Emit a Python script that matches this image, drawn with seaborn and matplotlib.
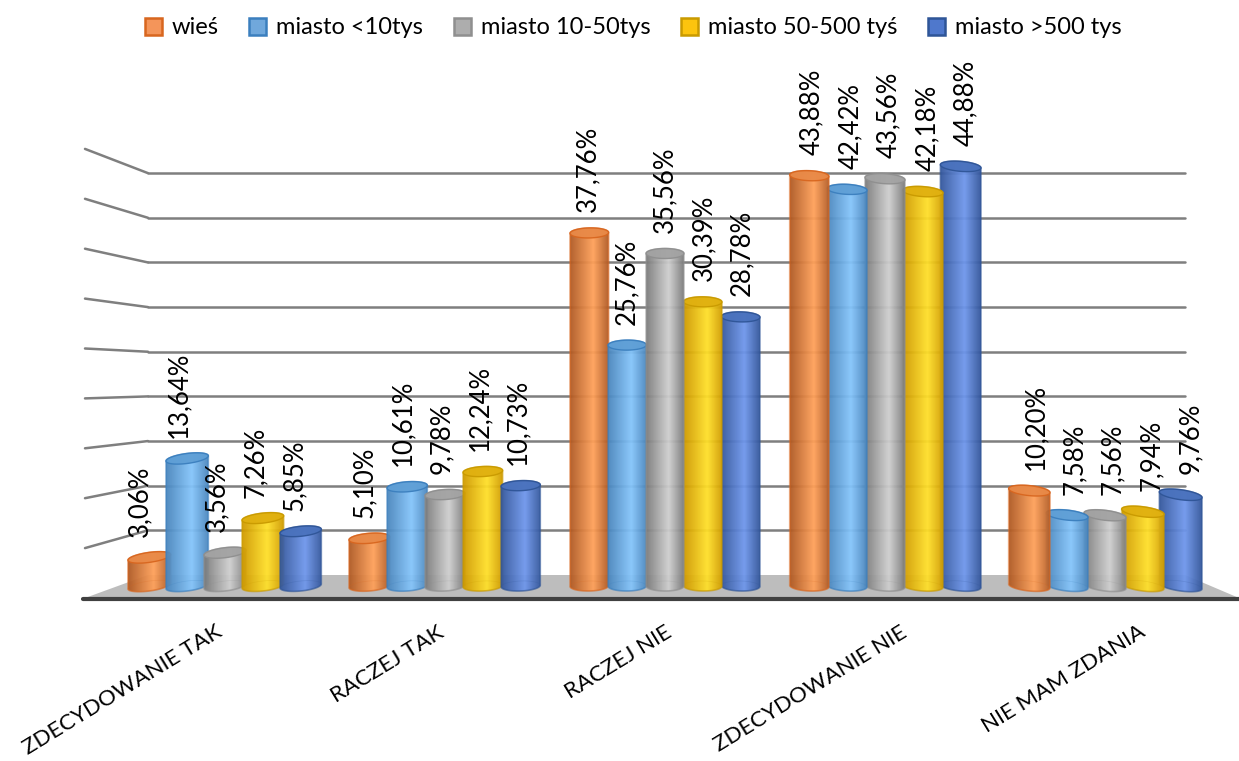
import numpy as np
import pandas as pd
import matplotlib
matplotlib.use('Agg')
import matplotlib.pyplot as plt
from matplotlib.colors import LinearSegmentedColormap
from matplotlib.patches import Patch, Polygon
import seaborn as sns

categories = ['ZDECYDOWANIE TAK', 'RACZEJ TAK', 'RACZEJ NIE', 'ZDECYDOWANIE NIE', 'NIE MAM ZDANIA']
series_names = ['wieś', 'miasto <10tys', 'miasto 10-50tys', 'miasto 50-500 tyś', 'miasto >500 tys']
wies = [3.06, 5.10, 37.76, 43.88, 10.20]
miasto_10 = [13.64, 10.61, 25.76, 42.42, 7.58]
miasto_50 = [3.56, 9.78, 35.56, 43.56, 7.56]
miasto_500 = [7.26, 12.24, 30.39, 42.18, 7.94]
miasto_big = [5.85, 10.73, 28.78, 44.88, 9.76]

# dark side, highlight, edge, cap, legend swatch
colours = [('#b05a24', '#ffa15a', '#d8661f', '#e98a48', '#f4955a'),
           ('#4a86bd', '#85c5fb', '#3b7fbe', '#5f9fd6', '#70a8dc'),
           ('#7c7c7c', '#cfcfcf', '#8f8f8f', '#a3a3a3', '#adadad'),
           ('#d09a00', '#ffe02a', '#c99a00', '#e0b010', '#fcc40e'),
           ('#34579c', '#6f97ec', '#2f5597', '#4a72bd', '#4f78cc')]

rows = []
for name, vals in zip(series_names, [wies, miasto_10, miasto_50, miasto_500, miasto_big]):
    for cat, v in zip(categories, vals):
        rows.append({'cat': cat, 'series': name, 'value': v})
df = pd.DataFrame(rows)

W, H = 1239, 761
X0, XSTEP = 225, 220      # pixel of first category, pixels per category
Y0, YSTEP = 586, 9.35     # pixel of zero, pixels per percent


def px_x(p):
    return (p - X0) / XSTEP


def px_y(p):
    return (Y0 - p) / YSTEP


sns.set_theme(style='white')
plt.rcParams['font.family'] = ['Lato', 'DejaVu Sans']

fig = plt.figure(figsize=(W / 100, H / 100), dpi=100)
ax = fig.add_axes([0, 0, 1, 1])
sns.barplot(data=df, x='cat', y='value', hue='series', order=categories, hue_order=series_names,
            palette=[c[1] for c in colours], width=0.86, gap=0, legend=False, ax=ax)

# back wall and floor
grid_col = '#7f7f7f'
ax.add_patch(Polygon([(px_x(85), px_y(598)), (px_x(1239), px_y(598)), (px_x(1185), px_y(575)), (px_x(148), px_y(575))],
                     closed=True, fc='#bdbdbd', ec='none', zorder=1))
ax.plot([px_x(83), px_x(1239)], [px_y(598.5)] * 2, color='#404040', lw=3, zorder=2)
for k in range(1, 10):
    back = px_y(575 - 44.65 * k)
    front = px_y(598 - 49.9 * k)
    ax.plot([px_x(148), px_x(1185)], [back, back], color=grid_col, lw=1.8, zorder=1)
    ax.plot([px_x(85), px_x(148)], [front, back], color=grid_col, lw=1.8, zorder=1)

b_y = 5 / YSTEP
t = np.linspace(0, 2 * np.pi, 60)
for s, container in enumerate(ax.containers):
    dark, light, edge, cap, _ = colours[s]
    cmap = LinearSegmentedColormap.from_list('cyl', [dark, light, dark], N=128)
    ramp = np.interp(np.linspace(0, 1, 128), [0, 0.6, 1], [0, 0.5, 1])[None, :]
    for bar in container:
        mid = bar.get_x() + bar.get_width() / 2
        off = mid - 2
        wid = bar.get_width() * (1 + 0.055 * abs(off))
        bar.set_x(mid - wid / 2)
        bar.set_width(wid)
        bar.set_facecolor('none')
        bar.set_edgecolor('none')
        top = bar.get_height()
        # bars nearer the middle sit in front, parts of one bar must stay together
        z = 20 - 5 * abs(off)
        # ellipses lean with the perspective
        tilt = -1.2 * off / YSTEP
        ex = mid + wid / 2 * np.cos(t)
        ey = b_y * np.sin(t) + tilt * np.cos(t)
        ys = np.where(t < np.pi, top + ey, ey)
        body = Polygon(np.c_[ex, ys], closed=True, fc='none', ec=edge, lw=1.2, alpha=0.6, zorder=z + 0.2)
        ax.add_patch(body)
        im = ax.imshow(ramp, cmap=cmap, vmin=0, vmax=1, aspect='auto', alpha=0.95, zorder=z,
                       extent=[mid - wid / 2, mid + wid / 2, -1, top + 1], interpolation='bilinear')
        im.set_clip_path(body)
        ax.add_patch(Polygon(np.c_[ex, top + ey], closed=True, fc=cap, ec=edge, lw=1.0, alpha=0.95, zorder=z + 0.3))
        ax.add_patch(Polygon(np.c_[ex, ey], closed=True, fc='none', ec=edge, lw=0.5, alpha=0.2, zorder=z + 0.3))
        # value label
        ax.text(mid + off * 0.018, top + 2.2, f'{top:.2f}%'.replace('.', ','), rotation=90,
                ha='center', va='bottom', fontsize=18.5, color='black', zorder=30)

label_shift = [-10, -8, 0, 15, 33]
for i, cat in enumerate(categories):
    ax.text(i + label_shift[i] / XSTEP, px_y(622), cat, rotation=31.5, rotation_mode='anchor',
            ha='right', va='top', fontsize=16, color='black')

handles = [Patch(fc=c[4], ec=c[2], lw=1.8) for c in colours]
ax.legend(handles, series_names, loc='upper center', bbox_to_anchor=(0.511, 1.005), ncol=5, frameon=False,
          fontsize=17, handlelength=0.72, handleheight=0.72, handletextpad=0.42, columnspacing=1.3,
          labelcolor='black')

ax.set_xlim(px_x(0), px_x(W))
ax.set_ylim(px_y(H), px_y(0))
ax.set_axis_off()
fig.savefig('out.png', dpi=100)
